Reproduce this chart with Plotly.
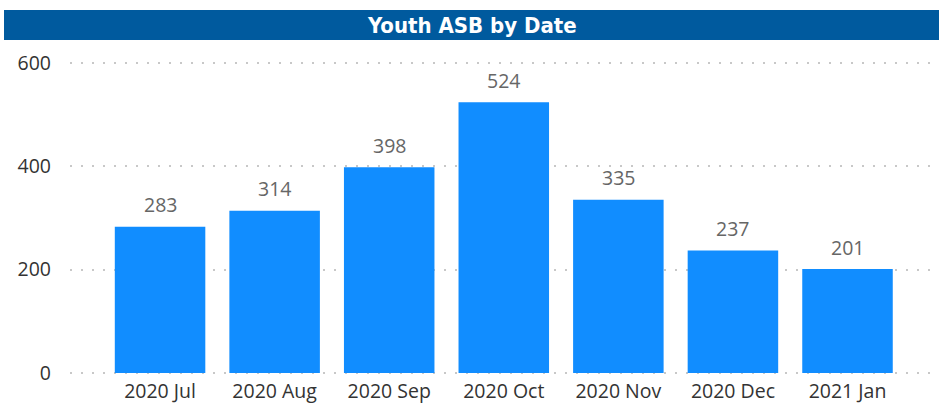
import plotly.graph_objects as go

categories = ["2020 Jul", "2020 Aug", "2020 Sep", "2020 Oct", "2020 Nov", "2020 Dec", "2021 Jan"]
values = [283, 314, 398, 524, 335, 237, 201]
y_ticks = [0, 200, 400, 600]

W, H = 939, 412
L, R, T, B = 70, 9, 50, 38
pw, ph = W - L - R, H - T - B

def px_x(x):
    return (x - L) / pw

def px_y(y):
    return (H - B - y) / ph

fig = go.Figure(go.Bar(
    x=categories, y=values,
    marker=dict(color="#118DFF", line=dict(width=0)),
    hoverinfo="x+y",
))

label_font = dict(family="Open Sans, Noto Sans, sans-serif", size=19.5, color="#666666")
annotations = [
    dict(x=c, y=v, xref="x", yref="y", text=str(v), showarrow=False,
         yanchor="middle", xanchor="center", yshift=22, font=label_font)
    for c, v in zip(categories, values)
]
annotations.append(dict(
    text="<b>Youth ASB by Date</b>", xref="paper", yref="paper",
    x=px_x(471.5), y=px_y(25), xanchor="center", yanchor="middle",
    showarrow=False,
    font=dict(family="DejaVu Sans Condensed, Liberation Sans Narrow, sans-serif", size=22, color="white"),
))

fig.update_layout(
    width=W, height=H,
    margin=dict(l=L, r=R, t=T, b=B),
    paper_bgcolor="white", plot_bgcolor="white",
    bargap=0.21,
    showlegend=False,
    font=dict(family="Open Sans, Noto Sans, sans-serif"),
    xaxis=dict(
        range=[-0.786, 6.72], showgrid=False, showline=False, zeroline=False,
        tickfont=dict(size=19.5, color="#333333"), ticks="", ticklabelstandoff=3,
    ),
    yaxis=dict(
        range=[-2, 625], tickvals=y_ticks, showgrid=True,
        gridcolor="#C8C8C8", griddash="2px,9px", gridwidth=1.5,
        zeroline=False, showline=False,
        tickfont=dict(size=19.5, color="#333333"), ticks="", ticklabelstandoff=18,
    ),
    shapes=[dict(
        type="rect", xref="paper", yref="paper",
        x0=px_x(4), x1=px_x(939), y0=px_y(40), y1=px_y(10),
        fillcolor="#005A9E", line=dict(width=0), layer="above",
    )],
    annotations=annotations,
)

fig.write_html("out.html")
